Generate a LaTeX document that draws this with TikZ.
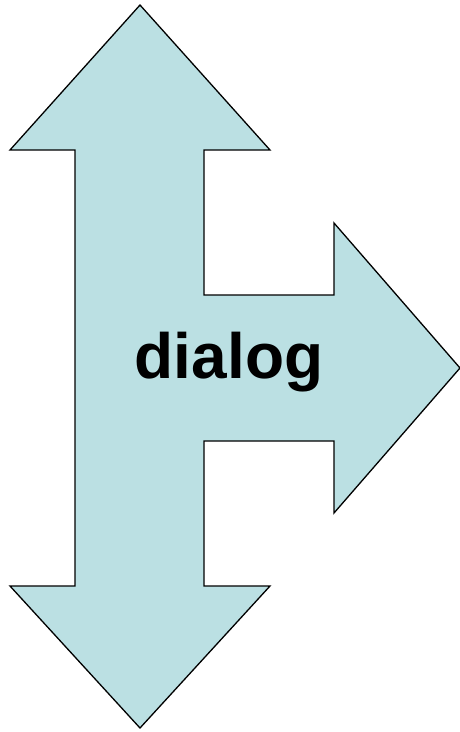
\documentclass[tikz,border=0pt]{standalone}
\usepackage{fontspec}
\setmainfont{Liberation Sans}
\usetikzlibrary{positioning}
\definecolor{cpale}{HTML}{BBE0E3}
\tikzset{
  every picture/.style={line width=1.3pt},
  arrowshape/.style={draw=black, fill=cpale, line join=miter},
  label/.style={font=\fontsize{64}{72}\selectfont\bfseries, inner sep=0pt},
}
\begin{document}
\begin{tikzpicture}[x=1pt, y=-1pt]
  \useasboundingbox (0,0) rectangle (460,732);
  % three-way arrow
  \draw[arrowshape] (140,5) -- (270,150) -- (204,150) -- (204,295) -- (334,295) -- (334,223)
    -- (460,368) -- (334,513) -- (334,441) -- (204,441) -- (204,586) -- (270,586)
    -- (140,728) -- (10,586) -- (75,586) -- (75,150) -- (10,150) -- cycle;
  \node[label] (dialog) at (229,362) {dialog};
\end{tikzpicture}
\end{document}
